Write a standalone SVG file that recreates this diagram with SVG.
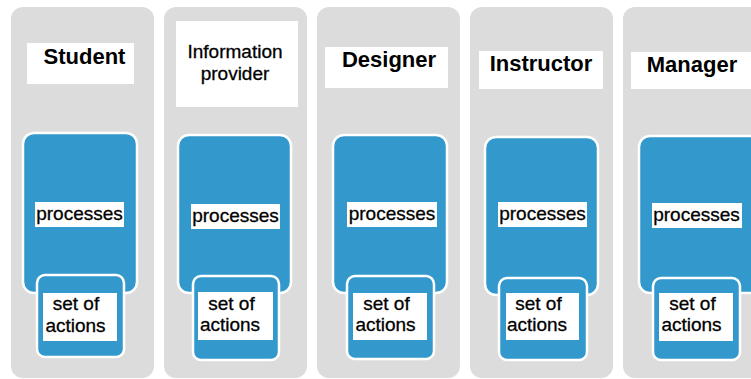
<svg xmlns="http://www.w3.org/2000/svg" width="751" height="379" viewBox="0 0 751 379">
<style>
.panel{fill:#dcdcdc}
.title{fill:#ffffff}
.proc{fill:#3399cc;stroke:#ffffff;stroke-width:2.5}
.lbl{fill:#ffffff}
.tb{font-family:"Liberation Sans",Arial,sans-serif;font-weight:bold;font-size:22px;fill:#000;text-anchor:middle}
.tr{font-family:"Liberation Sans",Arial,sans-serif;font-size:19px;fill:#000;stroke:#000;stroke-width:0.3;text-anchor:middle}
</style>
<rect width="751" height="379" fill="#ffffff"/>
<g id="student">
<rect class="panel" x="11" y="7" width="143" height="371" rx="12"/>
<rect class="title" x="27" y="43" width="107" height="41"/>
<text class="tb" x="84.5" y="63.5">Student</text>
<rect class="proc" x="23" y="133" width="114" height="160" rx="11"/>
<rect class="lbl" x="35" y="202" width="89" height="25"/>
<text class="tr" x="79.5" y="220">processes</text>
<rect class="proc" x="37" y="275" width="87" height="82" rx="8"/>
<rect class="lbl" x="43" y="293" width="74" height="48"/>
<text class="tr" x="76" y="310">set of</text>
<text class="tr" x="75.5" y="331.5">actions</text>
</g>
<g id="information-provider">
<rect class="panel" x="164" y="7" width="143" height="371" rx="12"/>
<rect class="title" x="176" y="21" width="122" height="86"/>
<text class="tr" x="235" y="58.3">Information</text>
<text class="tr" x="235" y="80">provider</text>
<rect class="proc" x="178" y="135" width="113" height="158" rx="11"/>
<rect class="lbl" x="191" y="204" width="89" height="25"/>
<text class="tr" x="235.5" y="221.5">processes</text>
<rect class="proc" x="193" y="276" width="86" height="84" rx="8"/>
<rect class="lbl" x="198" y="292" width="75" height="48"/>
<text class="tr" x="231.5" y="309.5">set of</text>
<text class="tr" x="230" y="330.5">actions</text>
</g>
<g id="designer">
<rect class="panel" x="317" y="7" width="143" height="371" rx="12"/>
<rect class="title" x="325" y="47" width="123" height="41"/>
<text class="tb" x="389" y="67.3">Designer</text>
<rect class="proc" x="333" y="135" width="114" height="158" rx="11"/>
<rect class="lbl" x="347" y="202" width="90" height="25"/>
<text class="tr" x="392" y="220">processes</text>
<rect class="proc" x="347" y="276" width="87" height="83" rx="8"/>
<rect class="lbl" x="353" y="293" width="74" height="47"/>
<text class="tr" x="386.5" y="310">set of</text>
<text class="tr" x="385.5" y="330.7">actions</text>
</g>
<g id="instructor">
<rect class="panel" x="470" y="7" width="143" height="371" rx="12"/>
<rect class="title" x="479" y="51" width="124" height="38"/>
<text class="tb" x="541" y="71">Instructor</text>
<rect class="proc" x="485" y="137" width="113" height="158" rx="11"/>
<rect class="lbl" x="498" y="202" width="89" height="25"/>
<text class="tr" x="542.5" y="220">processes</text>
<rect class="proc" x="499" y="278" width="88" height="82" rx="8"/>
<rect class="lbl" x="506" y="293" width="73" height="47"/>
<text class="tr" x="538.5" y="309.5">set of</text>
<text class="tr" x="537" y="330.5">actions</text>
</g>
<g id="manager">
<rect class="panel" x="623" y="7" width="143" height="371" rx="12"/>
<rect class="title" x="631" y="52" width="125" height="37"/>
<text class="tb" x="692" y="71.7">Manager</text>
<rect class="proc" x="639" y="136" width="125" height="157" rx="11"/>
<rect class="lbl" x="652" y="203" width="90" height="25"/>
<text class="tr" x="696.5" y="220.7">processes</text>
<rect class="proc" x="653" y="278" width="87" height="82" rx="8"/>
<rect class="lbl" x="659" y="293" width="74" height="48"/>
<text class="tr" x="692.5" y="310">set of</text>
<text class="tr" x="691.5" y="331">actions</text>
</g>
<g id="connectors"/>
</svg>
